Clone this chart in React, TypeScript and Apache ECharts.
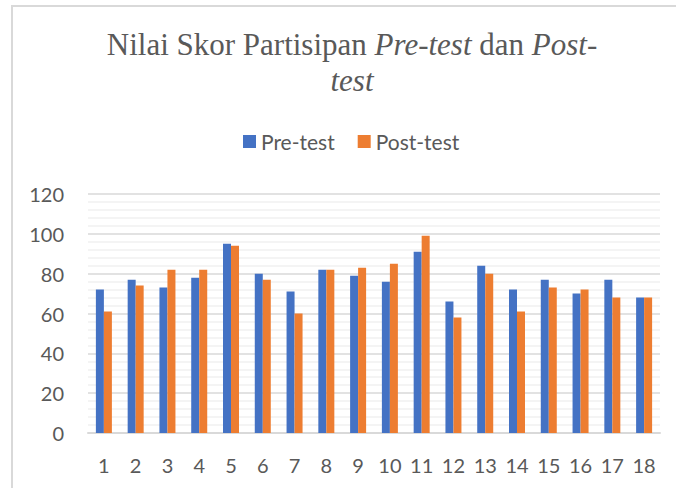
import React, { useEffect, useRef } from "react";
import * as echarts from "echarts";

const categories = ["1","2","3","4","5","6","7","8","9","10","11","12","13","14","15","16","17","18"];
const preTest = [72, 77, 73, 78, 95, 80, 71, 82, 79, 76, 91, 66, 84, 72, 77, 70, 77, 68];
const postTest = [61, 74, 82, 82, 94, 77, 60, 82, 83, 85, 99, 58, 80, 61, 73, 72, 68, 68];
const seriesNames = ["Pre-test", "Post-test"];

export default function App() {
  const ref = useRef<HTMLDivElement>(null);
  useEffect(() => {
    document.body.style.margin = "0";
    const chart = echarts.init(ref.current!, null, { renderer: "svg" });
    const serif = "serif";
    const sans = "Lato";
    chart.setOption({
      animation: false,
      backgroundColor: "#ffffff",
      title: {
        left: 347,
        textAlign: "center",
        top: 21,
        text: "{a|Nilai Skor Partisipan }{i|Pre-test}{a| dan }{i|Post-}\n{i|test}",
        textStyle: {
          fontWeight: "normal",
          fontFamily: serif,
          fontSize: 31,
          rich: {
            a: { fontFamily: serif, fontSize: 31, color: "#595959", lineHeight: 36, fontWeight: "normal" },
            i: { fontFamily: serif, fontSize: 31, color: "#595959", fontStyle: "italic", lineHeight: 36, fontWeight: "normal" },
          },
        },
      },
      legend: {
        top: 126,
        left: 238,
        itemWidth: 13,
        itemHeight: 13,
        itemGap: 23,
        icon: "rect",
        textStyle: { fontFamily: sans, fontSize: 21, color: "#595959" },
        data: seriesNames,
      },
      grid: { left: 88, right: 16, top: 194, bottom: 55, containLabel: false },
      xAxis: {
        type: "category",
        data: categories,
        axisLine: { lineStyle: { color: "#d9d9d9", width: 2 } },
        axisTick: { show: false },
        axisLabel: { fontFamily: sans, fontSize: 20, color: "#595959", margin: 22 },
      },
      yAxis: {
        type: "value",
        min: 0,
        max: 120,
        interval: 20,
        axisLine: { show: false },
        axisTick: { show: false },
        axisLabel: { fontFamily: sans, fontSize: 20, color: "#595959", margin: 24 },
        splitLine: { lineStyle: { color: "#d9d9d9", width: 1.5 } },
        minorTick: { show: false, splitNumber: 5 },
        minorSplitLine: { show: true, lineStyle: { color: "#f0f0f0", width: 1.5 } },
      },
      series: [
        {
          name: seriesNames[0],
          type: "bar",
          data: preTest,
          barWidth: 8,
          barGap: "0%",
          itemStyle: { color: "#4472C4" },
        },
        {
          name: seriesNames[1],
          type: "bar",
          data: postTest,
          barWidth: 8,
          barGap: "0%",
          itemStyle: { color: "#ED7D31" },
        },
      ],
      graphic: [
        { type: "line", shape: { x1: 12, y1: 6, x2: 12, y2: 488 }, style: { stroke: "#d9d9d9", lineWidth: 2 } },
        { type: "line", shape: { x1: 11, y1: 6, x2: 676, y2: 6 }, style: { stroke: "#d9d9d9", lineWidth: 2 } },
      ],
    });
    return () => chart.dispose();
  }, []);
  return <div ref={ref} style={{ width: 676, height: 488 }} />;
}
